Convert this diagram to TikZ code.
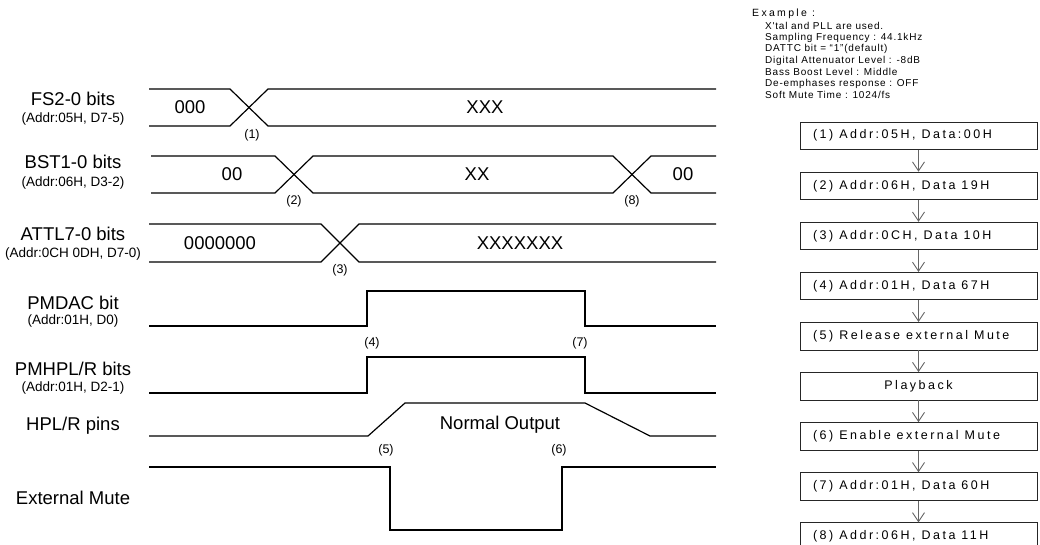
\documentclass[tikz,border=0pt]{standalone}
\usepackage{fontspec}
\setmainfont{Liberation Sans}
\newfontfamily\spacedfont[LetterSpace=8]{Liberation Sans}
\newfontfamily\titlefont[LetterSpace=22]{Liberation Sans}
\newfontfamily\boxfont[LetterSpace=20]{Liberation Sans}
\usetikzlibrary{arrows.meta,positioning}
\newcommand{\wgap}{\hspace{6pt}}

\tikzset{
  sig/.style={line width=1.2pt},
  signame/.style={font=\fontsize{18.5}{20}\selectfont},
  sigaddr/.style={font=\fontsize{13.5}{15}\selectfont},
  sigval/.style={font=\fontsize{18.5}{20}\selectfont},
  evt/.style={font=\fontsize{12.5}{14}\selectfont},
  exline/.style={anchor=west, inner sep=0pt, font=\spacedfont\fontsize{10}{11}\selectfont},
  stepbox/.style={draw=black!85, line width=0.8pt, minimum height=27.5pt,
    text width=211pt, inner xsep=13pt, inner ysep=0pt, align=left,
    font=\boxfont\fontsize{12.5}{14}\selectfont},
  flow/.style={draw=black!60, line width=0.9pt, -{Straight Barb[length=9pt,width=12pt]}},
}

\begin{document}
\begin{tikzpicture}[x=1pt,y=-1pt]
    \useasboundingbox (0,0) rectangle (1040,544);

    % Signal names
    \node[signame] (fs) at (73,99) {FS2-0 bits};
    \node[sigaddr] (fsaddr) at (73,119) {(Addr:05H, D7-5)};
    \node[signame] (bst) at (73,162) {BST1-0 bits};
    \node[sigaddr] (bstaddr) at (73,183) {(Addr:06H, D3-2)};
    \node[signame] (attl) at (73,234) {ATTL7-0 bits};
    \node[sigaddr] (attladdr) at (73,254) {(Addr:0CH 0DH, D7-0)};
    \node[signame] (pmdac) at (73,303) {PMDAC bit};
    \node[sigaddr] (pmdacaddr) at (73,321) {(Addr:01H, D0)};
    \node[signame] (pmhp) at (73,369) {PMHPL/R bits};
    \node[sigaddr] (pmhpaddr) at (73,388) {(Addr:01H, D2-1)};
    \node[signame] (hpl) at (73,426) {HPL/R pins};
    \node[signame] (mute) at (73,498) {External Mute};

    % FS2-0 bus
    \draw[sig] (149,89) -- (230,89) -- (268,126) -- (716,126);
    \draw[sig] (149,126) -- (230,126) -- (268,89) -- (716,89);
    \node[sigval] (fsold) at (190,107) {000};
    \node[sigval] (fsnew) at (485,107) {XXX};
    \node[evt] (e1) at (252,135) {(1)};

    % BST1-0 bus
    \draw[sig] (151,156) -- (275,156) -- (313,193) -- (613,193) -- (651,156) -- (716,156);
    \draw[sig] (151,193) -- (275,193) -- (313,156) -- (613,156) -- (651,193) -- (716,193);
    \node[sigval] (bstold) at (232,174) {00};
    \node[sigval] (bstnew) at (477,174) {XX};
    \node[sigval] (bstback) at (683,174) {00};
    \node[evt] (e2) at (294,201) {(2)};
    \node[evt] (e8) at (632,201) {(8)};

    % ATTL7-0 bus
    \draw[sig] (149,224) -- (321,224) -- (359,262) -- (716,262);
    \draw[sig] (149,262) -- (321,262) -- (359,224) -- (716,224);
    \node[sigval] (attlold) at (220,243) {0000000};
    \node[sigval] (attlnew) at (520,243) {XXXXXXX};
    \node[evt] (e3) at (340,270) {(3)};

    % PMDAC and PMHPL/R
    \draw[sig] (149,326) -- (367,326) -- (367,291) -- (585,291) -- (585,326) -- (716,326);
    \node[evt] (e4) at (372,343) {(4)};
    \node[evt] (e7) at (580,343) {(7)};
    \draw[sig] (149,393) -- (367,393) -- (367,357) -- (585,357) -- (585,393) -- (716,393);

    % HPL/R output
    \draw[sig] (149,436) -- (368,436) -- (405,403) -- (585,403) -- (650,436) -- (716,436);
    \node[sigval] (normal) at (500,425) {Normal Output};
    \node[evt] (e5) at (386,450) {(5)};
    \node[evt] (e6) at (559,450) {(6)};

    % External mute
    \draw[sig] (149,467) -- (390,467) -- (390,530) -- (562,530) -- (562,467) -- (716,467);

    % Example settings
    \node[exline, font=\titlefont\fontsize{10.5}{11}\selectfont] (extitle) at (752,14) {Example :};
    \node[exline] (ex1) at (765,26) {X'tal and PLL are used.};
    \node[exline] (ex2) at (765,37.5) {Sampling Frequency : 44.1kHz};
    \node[exline] (ex3) at (765,49) {DATTC bit = “1”(default)};
    \node[exline] (ex4) at (765,60.5) {Digital Attenuator Level : -8dB};
    \node[exline] (ex5) at (765,72) {Bass Boost Level : Middle};
    \node[exline] (ex6) at (765,83.5) {De-emphases response : OFF};
    \node[exline] (ex7) at (765,95) {Soft Mute Time : 1024/fs};

    % Sequence
    \node[stepbox] (s1) at (918.5,135.75) {(1)\wgap Addr:05H,\wgap Data:00H};
    \node[stepbox, below=21.8pt of s1] (s2) {(2)\wgap Addr:06H,\wgap Data\wgap 19H};
    \node[stepbox, below=21.8pt of s2] (s3) {(3)\wgap Addr:0CH,\wgap Data\wgap 10H};
    \node[stepbox, below=21.8pt of s3] (s4) {(4)\wgap Addr:01H,\wgap Data\wgap 67H};
    \node[stepbox, below=21.8pt of s4] (s5) {(5)\wgap Release\wgap external\wgap Mute};
    \node[stepbox, below=21.8pt of s5, align=center] (play) {Playback};
    \node[stepbox, below=21.8pt of play] (s6) {(6)\wgap Enable\wgap external\wgap Mute};
    \node[stepbox, below=21.8pt of s6] (s7) {(7)\wgap Addr:01H,\wgap Data\wgap 60H};
    \node[stepbox, below=21.8pt of s7] (s8) {(8)\wgap Addr:06H,\wgap Data\wgap 11H};

    \draw[flow] (s1) -- (s2);
    \draw[flow] (s2) -- (s3);
    \draw[flow] (s3) -- (s4);
    \draw[flow] (s4) -- (s5);
    \draw[flow] (s5) -- (play);
    \draw[flow] (play) -- (s6);
    \draw[flow] (s6) -- (s7);
    \draw[flow] (s7) -- (s8);
\end{tikzpicture}
\end{document}
